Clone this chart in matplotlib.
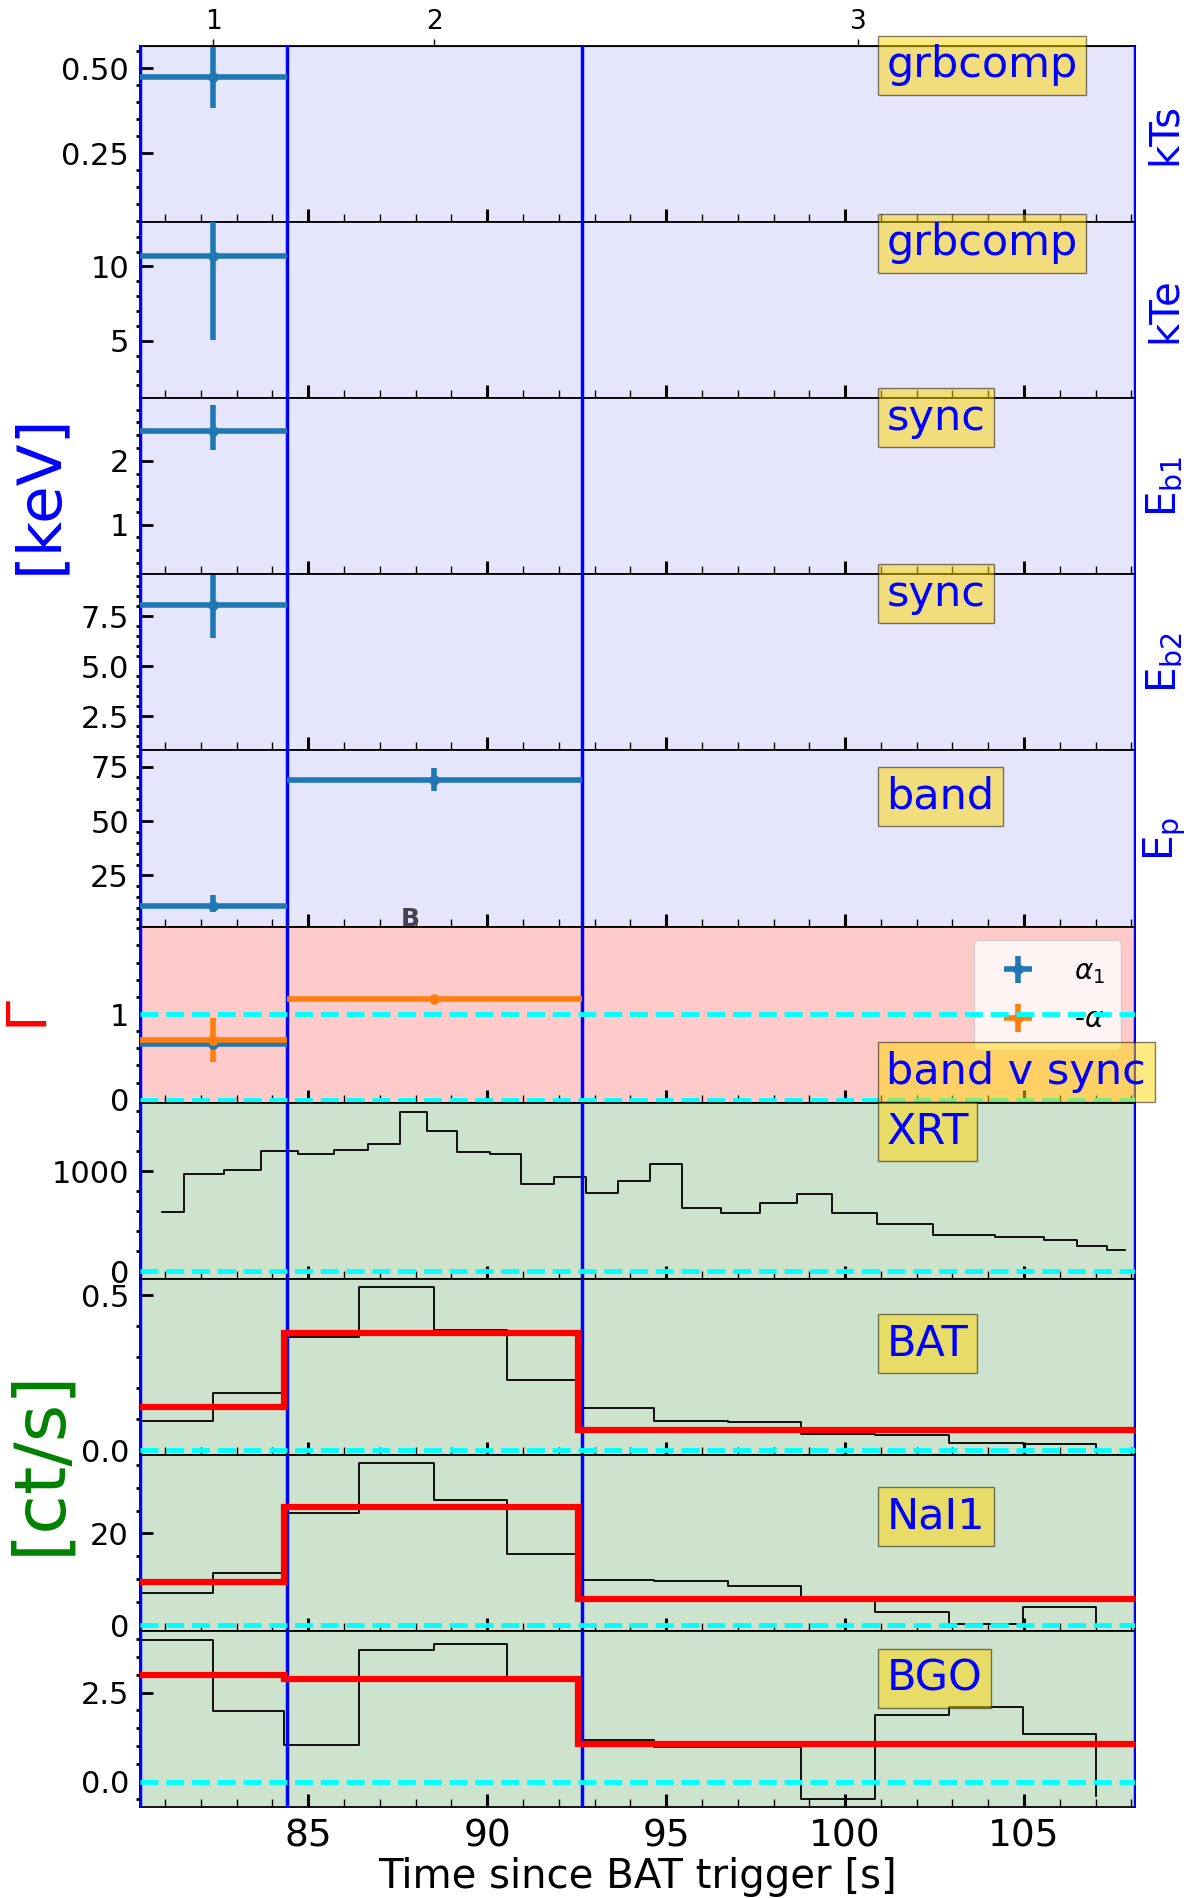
import numpy as np
import matplotlib.pyplot as plt
from matplotlib.ticker import AutoMinorLocator

# time intervals used for the spectral fits [s]
t_edges = [80.3, 84.4, 92.64, 108.1]
t_mid = [(a + b) / 2 for a, b in zip(t_edges[:-1], t_edges[1:])]
t_half = [(b - a) / 2 for a, b in zip(t_edges[:-1], t_edges[1:])]

# fitted parameters (keV)
kTs = [0.473]
kTs_err = [0.09]
kTe = [10.72]
kTe_err = [5.7]
Eb1 = [2.47]
Eb1_err = [[0.30], [0.40]]
Eb2 = [8.04]
Eb2_err = [[1.65], [1.50]]
Ep = [10.9, 68.75]
Ep_err = [[2.8, 4.75], [4.9, 5.75]]
# photon indices
alpha1 = [0.65]
alpha1_err = [0.02]
malpha = [0.695, 1.17]
malpha_err = [0.26, 0.03]

# XRT light curve (step edges, value at each edge)
xrt_t = [80.92, 81.52, 82.65, 83.69, 84.71, 85.72, 86.68, 87.55, 88.32, 89.15,
         90.07, 90.94, 91.87, 92.77, 93.66, 94.54, 95.45, 96.54, 97.61, 98.66,
         99.64, 100.89, 102.45, 104.2, 105.57, 106.48, 107.33, 107.81]
xrt_c = [593, 967, 1013, 1197, 1167, 1213, 1273, 1593, 1397, 1187,
         1167, 867, 940, 780, 897, 1067, 627, 580, 680, 767,
         580, 467, 357, 340, 310, 253, 210, 210]

# BAT / GBM light curves, 2 s bins
lc_t = [80.26, 82.33, 84.33, 86.43, 88.5, 90.55, 92.54, 94.65, 96.72, 98.78,
        100.83, 102.89, 104.97, 107.0]
bat_c = [0.095, 0.183, 0.366, 0.527, 0.387, 0.225, 0.137, 0.095, 0.090, 0.053,
         0.050, 0.025, 0.021, 0.012]
nai_c = [7.0, 11.47, 24.4, 35.4, 27.2, 15.5, 9.93, 9.56, 8.60, 5.7,
         2.87, 0.15, 3.97, 0.0]
bgo_c = [3.98, 1.98, 1.02, 3.70, 3.87, 2.95, 1.18, 0.98, 0.97, -0.49,
         1.87, 2.10, 1.35, -0.40]

# model rates per interval
mod_t = [80.26, 84.33, 92.54, 108.1]
bat_m = [0.140, 0.377, 0.064]
nai_m = [9.49, 25.7, 5.66]
bgo_m = [3.0, 2.89, 1.05]

ylims = [(0.047, 0.566), (1.14, 12.98), (0.22, 2.98), (0.80, 9.59), (1.5, 82.4),
         (-0.035, 2.02), (-78, 1683), (-0.015, 0.552), (-1.3, 37.1), (-0.72, 4.23)]
yticks = [[0.25, 0.50], [5, 10], [1, 2], [2.5, 5.0, 7.5], [25, 50, 75],
          [0, 1], [0, 1000], [0.0, 0.5], [0, 20], [0.0, 2.5]]
yfmt = ['%.2f', '%d', '%d', '%.1f', '%d', '%d', '%d', '%.1f', '%d', '%.1f']
boxlab = ['grbcomp', 'grbcomp', 'sync', 'sync', 'band', 'band v sync',
          'XRT', 'BAT', 'NaI1', 'BGO']
boxy = [0.89, 0.88, 0.89, 0.89, 0.74, 0.174, 0.835, 0.632, 0.653, 0.729]
rlab = ['kTs', 'kTe', r'$\mathrm{E_{b1}}$', r'$\mathrm{E_{b2}}$', r'$\mathrm{E_{p}}$']

fig, axs = plt.subplots(10, 1, sharex=True, figsize=(11.93, 18.98), dpi=100)
fig.subplots_adjust(left=0.1174, right=0.9514, top=0.9758, bottom=0.0478, hspace=0)

for i, ax in enumerate(axs):
    if i < 5:
        ax.set_facecolor('#E5E5FC')
    elif i == 5:
        ax.set_facecolor('#FFCACA')
    else:
        ax.set_facecolor('#CDE3CD')
    ax.set_xlim(t_edges[0], t_edges[-1])
    ax.set_ylim(ylims[i])
    ax.set_yticks(yticks[i])
    ax.set_yticklabels([yfmt[i] % v for v in yticks[i]])
    ax.yaxis.set_minor_locator(AutoMinorLocator())
    ax.xaxis.set_major_locator(plt.MultipleLocator(5))
    ax.xaxis.set_minor_locator(plt.MultipleLocator(1))
    ax.tick_params(axis='y', which='major', direction='in', length=9.5, width=2, labelsize=22, pad=8)
    ax.tick_params(axis='y', which='minor', direction='out', length=3, width=2)
    ax.tick_params(axis='x', which='major', direction='in', length=9.5, width=2.2, labelsize=27, pad=8)
    ax.tick_params(axis='x', which='minor', direction='in', length=6, width=1)
    for s in ax.spines.values():
        s.set_linewidth(1.3)
    for t in t_edges:
        ax.axvline(t, color='blue', lw=2.5, zorder=5)
    ax.text(0.75, boxy[i], boxlab[i], transform=ax.transAxes, fontsize=31, color='blue',
            ha='left', va='center', zorder=20,
            bbox=dict(boxstyle='square,pad=0.2', facecolor='gold', alpha=0.5))
    if i < 5:
        ax.text(1.03, 0.5, rlab[i], transform=ax.transAxes, fontsize=29, color='blue',
                rotation=90, ha='center', va='center')
    if i >= 5:
        ax.axhline(0, color='cyan', ls='--', lw=3.5, zorder=6)

ebkw = dict(fmt='o', ms=6.5, lw=4, elinewidth=4, capsize=0, zorder=8)
axs[0].errorbar(t_mid[:1], kTs, xerr=t_half[:1], yerr=kTs_err, color='C0', **ebkw)
axs[1].errorbar(t_mid[:1], kTe, xerr=t_half[:1], yerr=kTe_err, color='C0', **ebkw)
axs[2].errorbar(t_mid[:1], Eb1, xerr=t_half[:1], yerr=Eb1_err, color='C0', **ebkw)
axs[3].errorbar(t_mid[:1], Eb2, xerr=t_half[:1], yerr=Eb2_err, color='C0', **ebkw)
axs[4].errorbar(t_mid[:2], Ep, xerr=t_half[:2], yerr=Ep_err, color='C0', **ebkw)
axs[4].text(87.85, 0.005, 'B', transform=axs[4].get_xaxis_transform(), fontsize=18,
            fontweight='bold', color='#444450', ha='center', va='baseline')

g = axs[5]
g.axhline(1, color='cyan', ls='--', lw=3.5, zorder=6)
h1 = g.errorbar(t_mid[:1], alpha1, xerr=t_half[:1], yerr=alpha1_err, color='C0', **ebkw)
h2 = g.errorbar(t_mid[:2], malpha, xerr=t_half[:2], yerr=malpha_err, color='C1', **ebkw)
g.legend([h1, h2], [r'$\alpha_1$', r'-$\alpha$'], loc='upper right', fontsize=20,
         handletextpad=1.0, labelspacing=0.7, borderpad=0.6)

axs[6].step(xrt_t, xrt_c, where='post', color='k', lw=1.3)
for ax, c, m in zip(axs[7:], [bat_c, nai_c, bgo_c], [bat_m, nai_m, bgo_m]):
    ax.step(lc_t, c, where='post', color='k', lw=1.3)
    ax.stairs(m, mod_t, baseline=None, color='red', lw=4.5, zorder=7)

top = axs[0].secondary_xaxis('top')
top.set_xticks(t_mid)
top.set_xticklabels(['1', '2', '3'])
top.tick_params(direction='out', length=5, width=1, labelsize=19, pad=3)

axs[-1].set_xlabel('Time since BAT trigger [s]', fontsize=29, labelpad=2)

fig.text(0.0335, 0.740, '[keV]', color='blue', fontsize=44, rotation=90, ha='center', va='center')
fig.text(0.0335, 0.230, '[ct/s]', color='green', fontsize=52, rotation=90, ha='center', va='center')
fig.text(0.0265, 0.465, r'$\Gamma$', color='red', fontsize=40, rotation=90, ha='center', va='center')

fig.savefig('out.png', dpi=100)
